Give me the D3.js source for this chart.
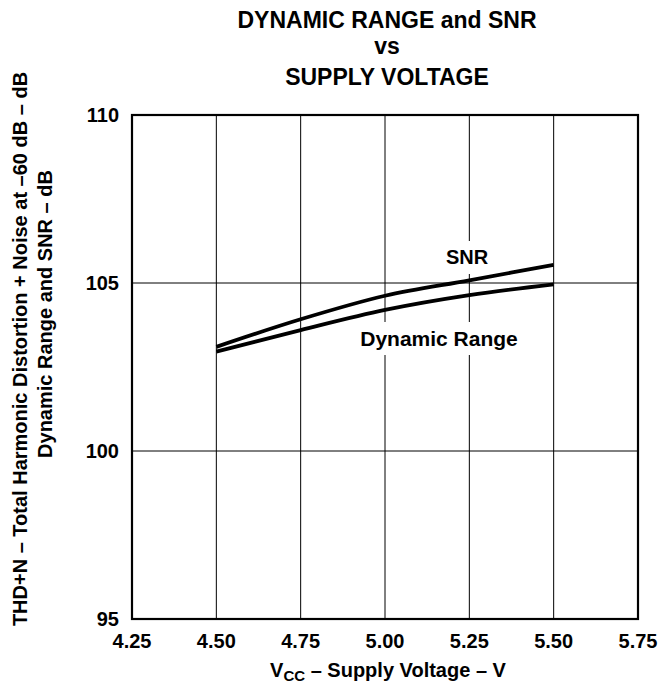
<!DOCTYPE html>
<html><head><meta charset="utf-8">
<script src="https://cdn.jsdelivr.net/npm/d3@7"></script>
<style>body{margin:0;background:#fff}svg{display:block}text{font-family:"Liberation Sans",Arial,sans-serif;font-weight:bold;fill:#000}</style>
</head><body>
<script>
const voltage = [4.50, 4.75, 5.00, 5.25, 5.50];
const snr = [103.10, 103.92, 104.62, 105.08, 105.54];
const dynamicRange = [102.96, 103.60, 104.20, 104.64, 104.96];
const xTicks = [4.25, 4.50, 4.75, 5.00, 5.25, 5.50, 5.75];
const yTicks = [95, 100, 105, 110];
const titleLines = ["DYNAMIC RANGE and SNR", "vs", "SUPPLY VOLTAGE"];

const W = 658, H = 686;
const m = {left: 132, right: 638, top: 115, bottom: 619};
const svg = d3.select("body").append("svg").attr("width", W).attr("height", H);
const x = d3.scaleLinear().domain([4.25, 5.75]).range([m.left, m.right]);
const y = d3.scaleLinear().domain([95, 110]).range([m.bottom, m.top]);

// gridlines
const g = svg.append("g");
g.selectAll("line.vx").data(xTicks.slice(1, -1)).join("line")
  .attr("x1", d => x(d)).attr("x2", d => x(d)).attr("y1", m.top).attr("y2", m.bottom)
  .attr("stroke", "#000").attr("stroke-width", 1);
g.selectAll("line.hy").data(yTicks.slice(1, -1)).join("line")
  .attr("x1", m.left).attr("x2", m.right).attr("y1", d => y(d)).attr("y2", d => y(d))
  .attr("stroke", "#000").attr("stroke-width", 1);

// labels with white background (break vertical gridlines)
function label(txt, cx, cy, size) {
  const t = svg.append("text").attr("x", cx).attr("y", cy).attr("text-anchor", "middle")
    .attr("dominant-baseline", "central").style("font-size", size + "px").text(txt);
  const b = t.node().getBBox();
  svg.insert("rect", () => t.node()).attr("x", b.x - 3).attr("y", cy - 16).attr("width", b.width + 6)
    .attr("height", 33).attr("fill", "#fff");
}
label("SNR", 467, 257, 20);
label("Dynamic Range", 439, 338, 21);

// curves
const line = d3.line().x(d => x(d[0])).y(d => y(d[1])).curve(d3.curveMonotoneX);
[snr, dynamicRange].forEach(s => {
  svg.append("path").datum(voltage.map((v, i) => [v, s[i]]))
    .attr("d", line).attr("fill", "none").attr("stroke", "#000").attr("stroke-width", 3.8);
});

// frame
svg.append("rect").attr("x", m.left).attr("y", m.top).attr("width", m.right - m.left)
  .attr("height", m.bottom - m.top).attr("fill", "none").attr("stroke", "#000").attr("stroke-width", 2.2);

// axes tick labels
svg.selectAll("text.xt").data(xTicks).join("text").attr("class", "xt")
  .attr("x", d => x(d)).attr("y", 648).attr("text-anchor", "middle")
  .style("font-size", "20px").text(d => d.toFixed(2));
svg.selectAll("text.yt").data(yTicks).join("text").attr("class", "yt")
  .attr("x", m.left - 13).attr("y", d => y(d) + 7).attr("text-anchor", "end")
  .style("font-size", "20px").text(d => d);

// x axis title
const xt = svg.append("text").attr("x", 388).attr("y", 677).attr("text-anchor", "middle").style("font-size", "20px");
xt.append("tspan").text("V");
xt.append("tspan").attr("dy", 4).style("font-size", "15px").text("CC");
xt.append("tspan").attr("dy", -4).text(" – Supply Voltage – V");

// y axis titles
svg.append("text").attr("transform", `translate(20,349) rotate(-90)`)
  .attr("text-anchor", "middle").attr("dominant-baseline", "central").style("font-size", "20px")
  .text("THD+N – Total Harmonic Distortion + Noise at –60 dB – dB");
svg.append("text").attr("transform", `translate(45,314) rotate(-90)`)
  .attr("text-anchor", "middle").attr("dominant-baseline", "central").style("font-size", "20px")
  .text("Dynamic Range and SNR – dB");

// title
svg.selectAll("text.title").data(titleLines).join("text").attr("class", "title")
  .attr("x", 387).attr("y", (d, i) => [28, 54, 85][i]).attr("text-anchor", "middle")
  .style("font-size", "23px").text(d => d);
</script>
</body></html>
